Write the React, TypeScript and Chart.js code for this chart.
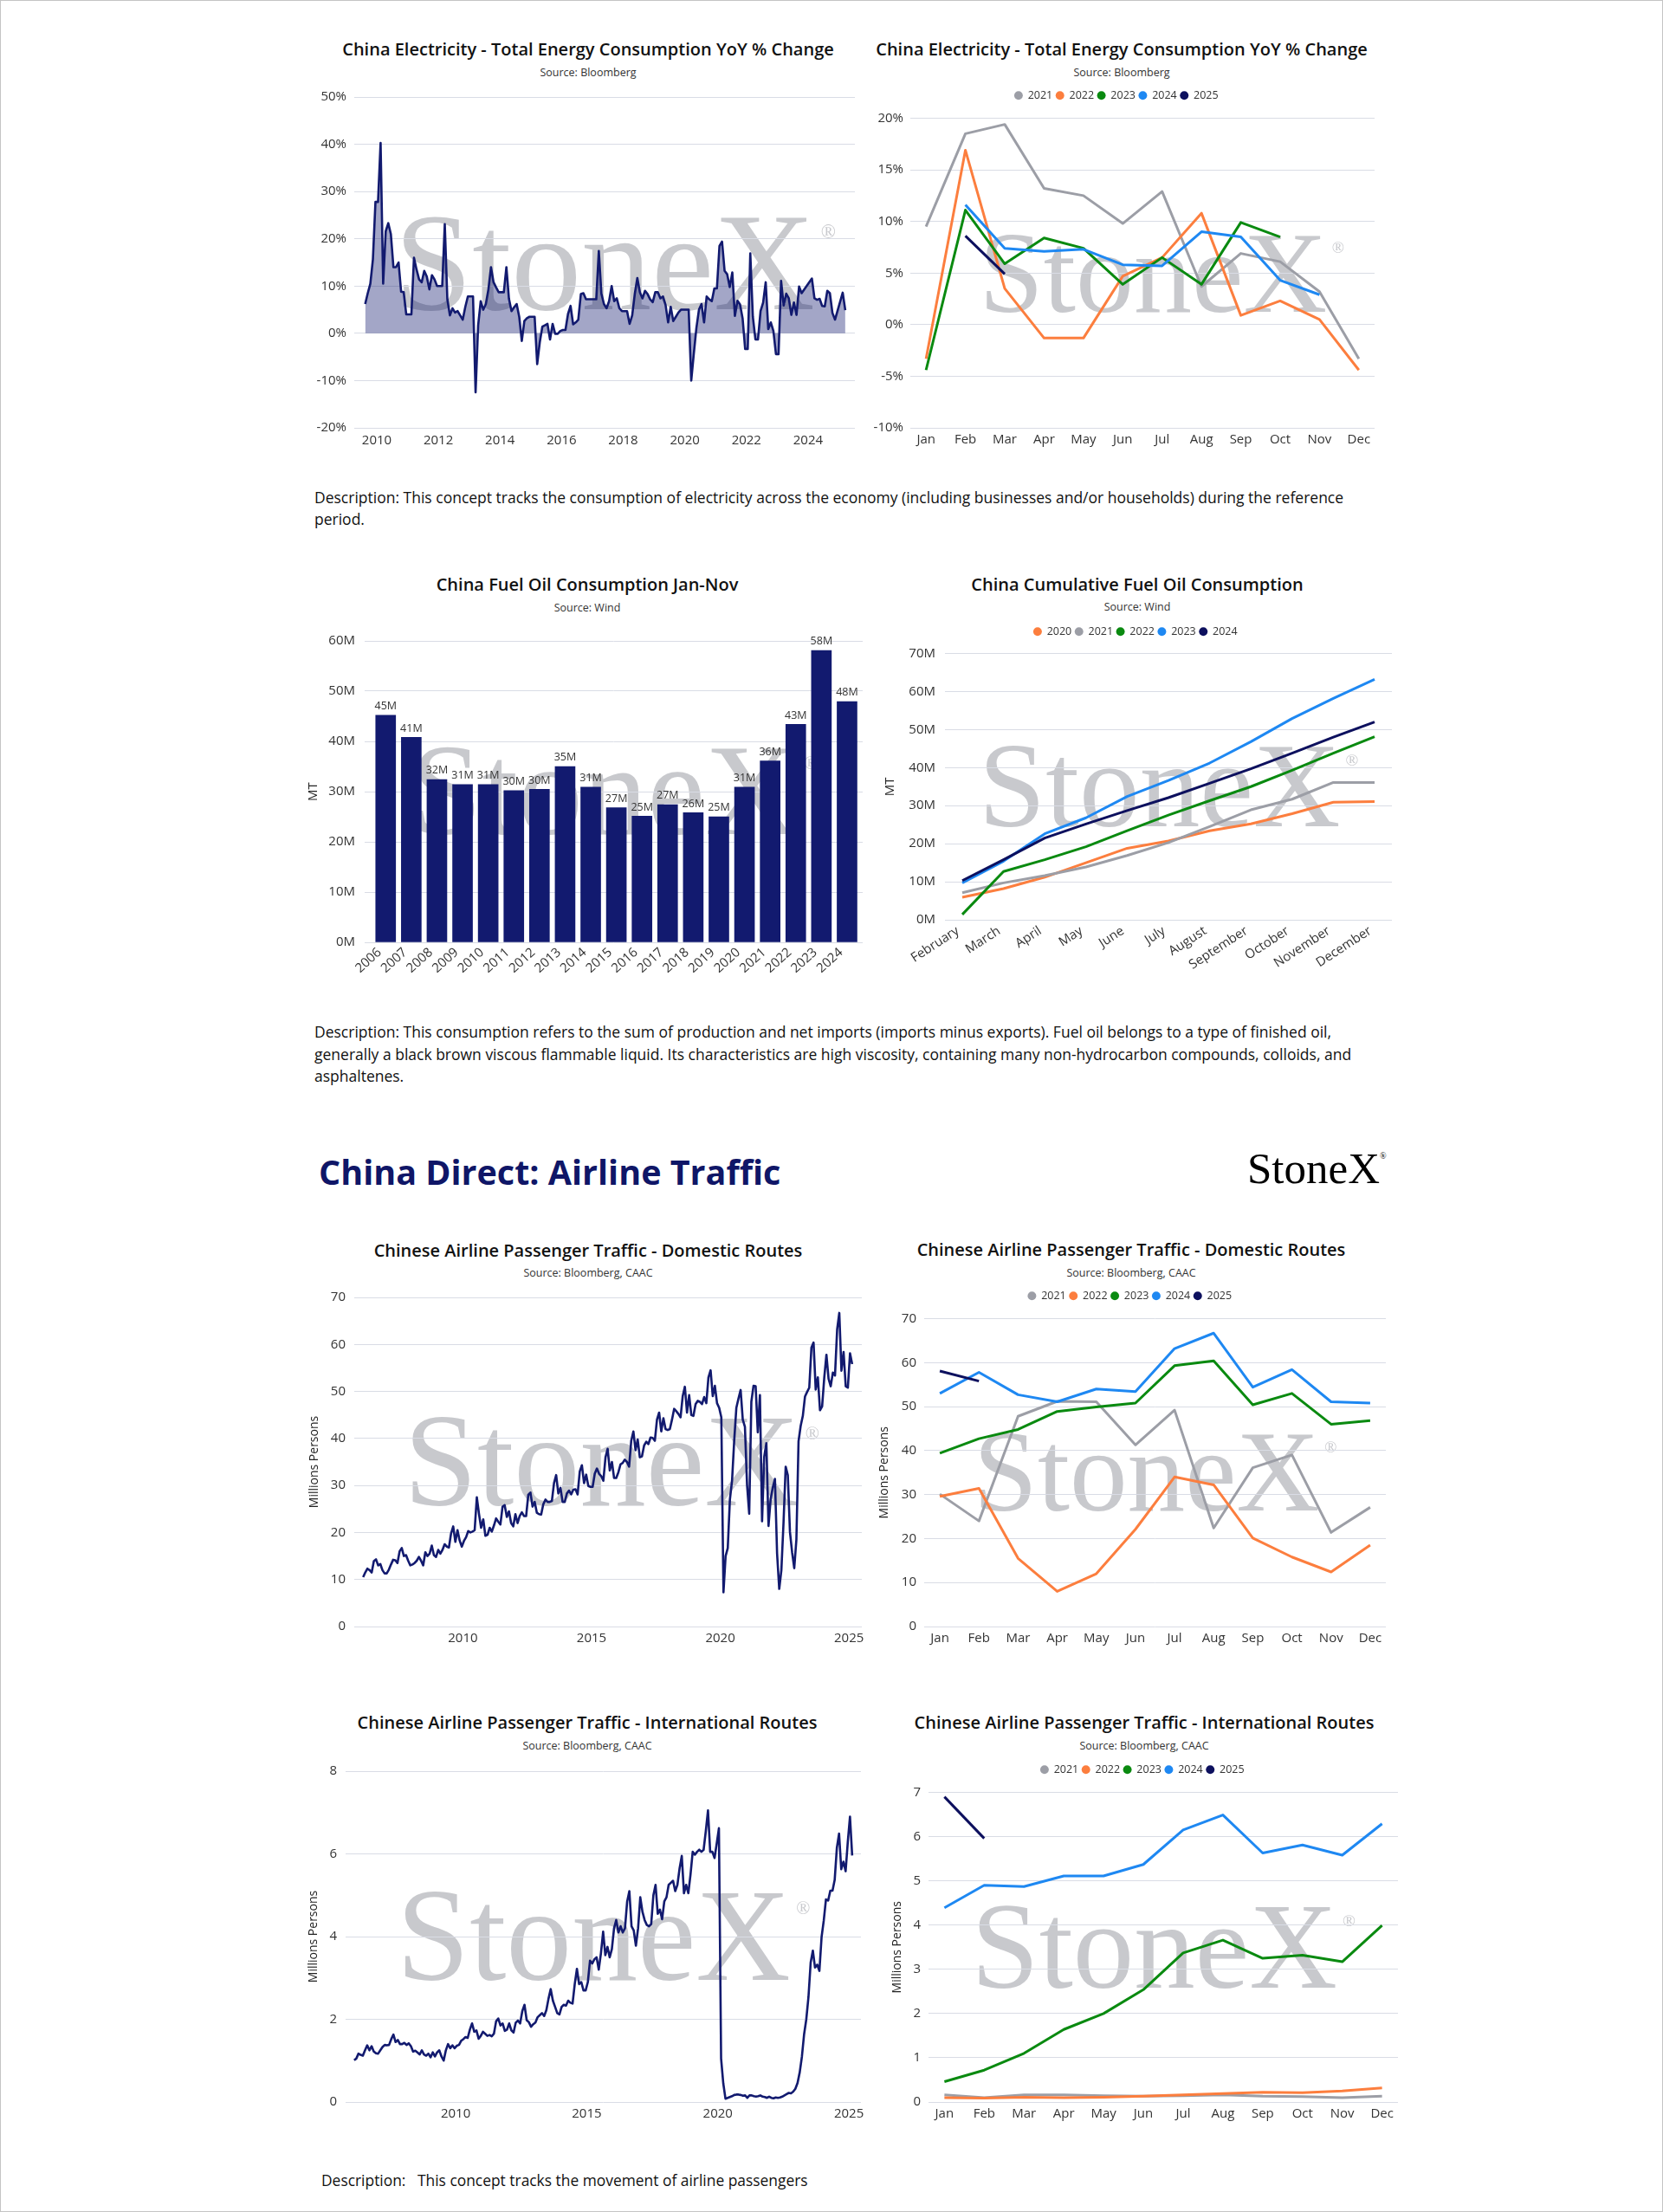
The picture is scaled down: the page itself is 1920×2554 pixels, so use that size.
import React, { useEffect, useRef } from 'react';
import { Chart, registerables } from 'chart.js';

Chart.register(...registerables);

const SANS = "'Open Sans', 'Noto Sans', 'DejaVu Sans', sans-serif";
const SERIF = "'Liberation Serif', 'DejaVu Serif', serif";
Chart.defaults.font.family = SANS;
Chart.defaults.color = '#333';

// ---------- colours ----------
const NAVY = '#121a6f';
const NAVY_FILL = 'rgba(18, 26, 111, 0.39)';
const GREY = '#9c9ea6';
const ORANGE = '#fc7e3e';
const GREEN = '#0a8a10';
const BLUE = '#1e88f2';
const DARK_NAVY = '#0d105e';
const GRID = '#d9dce5';
const WATERMARK = '#c8c9cd';

// ---------- categories / ticks ----------
const MONTHS = ['Jan', 'Feb', 'Mar', 'Apr', 'May', 'Jun', 'Jul', 'Aug', 'Sep', 'Oct', 'Nov', 'Dec'];
const FUEL_MONTHS = ['February', 'March', 'April', 'May', 'June', 'July', 'August', 'September', 'October', 'November', 'December'];
const ELEC_YEAR_TICKS = [2010, 2012, 2014, 2016, 2018, 2020, 2022, 2024];
const AIR_YEAR_TICKS = [2010, 2015, 2020, 2025];
const SEASONAL_YEARS = ['2021', '2022', '2023', '2024', '2025'];
const SEASONAL_COLORS = [GREY, ORANGE, GREEN, BLUE, DARK_NAVY];
const FUEL_CUM_YEARS = ['2020', '2021', '2022', '2023', '2024'];
const FUEL_CUM_COLORS = [ORANGE, GREY, GREEN, BLUE, DARK_NAVY];
const FUEL_BAR_YEARS = [2006, 2007, 2008, 2009, 2010, 2011, 2012, 2013, 2014, 2015, 2016, 2017, 2018, 2019, 2020, 2021, 2022, 2023, 2024];

// ---------- China electricity consumption YoY % (monthly) ----------
// Aug 2009 – Dec 2020
const elecYoY2009to2020 = [
  6.2, 8.5, 10.5, 15.6, 27.8,
  27.8, 40.3, 10.5, 21.6, 23.3, 21.0, 14.0, 14.0, 15.0, 8.8, 8.7, 4.0,
  4.0, 4.0, 16.0, 13.5, 11.4, 10.8, 13.2, 12.0, 9.3, 12.3, 11.4, 10.0,
  10.0, 10.0, 23.1, 7.2, 3.8, 5.3, 4.4, 4.7, 3.8, 2.9, 5.6, 7.8,
  7.8, 7.8, -12.5, 1.7, 6.8, 5.0, 6.2, 9.3, 14.0, 10.8, 9.7, 8.7,
  8.7, 8.7, 14.0, 7.3, 4.7, 5.5, 6.2, 3.5, -1.6, 2.6, 3.2, 3.5,
  3.5, 3.5, -6.5, -1.9, 1.4, 1.7, 2.0, -1.3, 2.0, -0.1, -0.1, 0.5,
  0.7, 0.7, 4.1, 5.8, 1.9, 2.3, 2.9, 8.3, 8.5, 7.2, 7.2, 7.2,
  7.2, 7.2, 17.4, 8.4, 6.2, 5.3, 6.8, 10.0, 6.8, 7.4, 5.3, 4.7,
  4.7, 4.7, 2.0, 3.8, 8.3, 11.7, 8.7, 7.4, 9.0, 8.3, 7.2, 6.6,
  8.7, 8.7, 7.4, 7.8, 6.0, 2.3, 5.6, 2.6, 3.5, 4.4, 5.0, 5.0,
  5.0, 5.0, -10.0, -4.3, 1.1, 5.0, 6.2, 2.3, 7.8, 7.2, 6.8, 9.5,
];
const elecYoY2021 = [9.5, 18.5, 19.4, 13.2, 12.5, 9.8, 12.9, 3.7, 6.9, 6.1, 3.2, -3.3];
const elecYoY2022 = [-3.3, 16.9, 3.5, -1.3, -1.3, 4.7, 6.5, 10.8, 0.9, 2.3, 0.5, -4.4];
const elecYoY2023 = [-4.4, 11.1, 5.9, 8.4, 7.4, 3.9, 6.5, 3.9, 9.9, 8.5, null, null];
const elecYoY2024 = [null, 11.6, 7.4, 7.1, 7.3, 5.8, 5.7, 9.0, 8.5, 4.3, 2.9, null];
const elecYoY2025 = [null, 8.6, 4.9];

// ---------- China fuel oil ----------
const fuelOilJanNov = [45.2, 40.8, 32.4, 31.4, 31.4, 30.2, 30.45, 35.0, 30.9, 26.8, 25.1, 27.4, 25.8, 25.0, 30.9, 36.1, 43.4, 58.1, 47.9];
const fuelCum2020 = [5.9, 8.2, 11.2, 15.0, 18.8, 20.7, 23.4, 25.2, 27.9, 30.9, 31.1];
const fuelCum2021 = [7.1, 9.7, 11.6, 13.9, 16.9, 20.3, 24.5, 28.9, 31.7, 36.1, 36.1];
const fuelCum2022 = [1.4, 12.7, 15.8, 19.2, 23.4, 27.5, 31.3, 35.0, 39.3, 43.8, 48.1];
const fuelCum2023 = [9.7, 15.4, 22.6, 26.8, 32.4, 36.6, 41.2, 46.8, 52.9, 58.2, 63.2];
const fuelCum2024 = [10.3, 15.8, 21.5, 25.2, 28.7, 32.1, 35.9, 39.7, 43.8, 48.0, 52.0];

// ---------- Airline passengers, domestic (millions), Feb 2006 – Dec 2020 ----------
const domestic2006to2020 = [
  10.5, 11.5, 12.3, 12.0, 11.5, 13.9, 14.3, 13.0, 13.3, 12.0, 11.3,
  11.3, 12.1, 13.2, 14.2, 14.1, 13.5, 16.0, 16.7, 15.0, 15.2, 14.0, 13.0,
  13.2, 13.5, 14.0, 14.8, 14.0, 13.0, 15.8, 15.0, 15.5, 17.2, 15.2, 14.8,
  16.3, 15.5, 16.3, 17.5, 17.0, 16.8, 19.8, 21.3, 18.0, 20.5, 18.3, 17.0,
  18.2, 19.0, 20.3, 20.0, 20.2, 20.5, 27.5, 24.0, 21.0, 22.8, 19.3, 19.5,
  21.0, 20.2, 21.5, 23.0, 22.3, 21.7, 25.5, 25.8, 23.3, 24.5, 22.0, 21.3,
  23.9, 22.0, 23.5, 24.3, 23.5, 23.5, 28.0, 28.5, 25.5, 26.5, 24.2, 23.9,
  23.8, 26.0, 27.0, 26.5, 26.5, 26.7, 30.5, 32.2, 28.3, 29.5, 26.5, 26.5,
  28.3, 28.9, 28.1, 29.1, 29.2, 28.1, 33.0, 34.3, 30.5, 32.3, 29.9, 29.7,
  29.7, 32.5, 33.6, 32.5, 32.0, 31.0, 36.0, 37.8, 33.2, 35.0, 31.6, 31.6,
  32.8, 34.5, 34.8, 35.5, 35.0, 34.0, 39.5, 41.5, 37.5, 39.8, 36.0, 36.2,
  38.5, 39.3, 38.8, 40.2, 40.1, 39.5, 44.0, 45.5, 41.5, 44.3, 42.0, 41.8,
  42.0, 44.0, 46.3, 45.8, 45.2, 44.5, 49.0, 51.0, 45.5, 49.2, 45.0, 44.8,
  47.3, 48.0, 47.8, 47.3, 48.8, 47.5, 53.0, 54.5, 49.0, 51.2, 47.5, 46.5,
  44.5, 7.3, 15.0, 16.7, 27.0, 31.0, 39.5, 46.5, 48.5, 50.3, 44.0, 42.5,
];
const domestic2021 = [30.1, 24.0, 47.8, 51.2, 51.1, 41.3, 49.2, 22.4, 36.1, 39.0, 21.4, 27.1];
const domestic2022 = [29.6, 31.4, 15.5, 8.0, 12.0, 22.1, 34.0, 32.2, 20.1, 15.8, 12.4, 18.5];
const domestic2023 = [39.4, 42.7, 44.8, 48.9, 49.9, 50.8, 59.3, 60.4, 50.4, 53.0, 46.0, 46.8];
const domestic2024 = [53.0, 57.8, 52.7, 51.1, 54.0, 53.4, 63.2, 66.7, 54.4, 58.4, 51.1, 50.8];
const domestic2025 = [58.1, 55.8];

// ---------- Airline passengers, international (millions), Feb 2006 – Dec 2020 ----------
const intl2006to2020 = [
  1.01, 1.05, 1.17, 1.14, 1.12, 1.25, 1.37, 1.25, 1.35, 1.22, 1.18,
  1.17, 1.25, 1.33, 1.38, 1.37, 1.38, 1.52, 1.63, 1.45, 1.50, 1.40, 1.40,
  1.43, 1.38, 1.42, 1.35, 1.22, 1.24, 1.20, 1.15, 1.25, 1.15, 1.12, 1.17,
  1.08, 1.20, 1.10, 1.20, 1.25, 1.10, 1.00, 1.25, 1.40, 1.30, 1.37, 1.30,
  1.36, 1.38, 1.48, 1.52, 1.57, 1.55, 1.75, 1.90, 1.70, 1.73, 1.53, 1.60,
  1.70, 1.65, 1.60, 1.62, 1.59, 1.65, 1.95, 2.02, 1.85, 1.90, 1.72, 1.75,
  1.90, 1.73, 1.68, 1.92, 1.97, 1.90, 2.20, 2.35, 1.98, 1.93, 1.82, 1.88,
  1.92, 2.05, 2.10, 2.15, 2.08, 2.22, 2.50, 2.73, 2.45, 2.30, 2.15, 2.12,
  2.30, 2.35, 2.33, 2.45, 2.40, 2.38, 2.85, 3.22, 2.85, 2.90, 2.70, 2.70,
  2.90, 3.42, 3.35, 3.45, 3.50, 3.20, 3.60, 4.12, 3.55, 3.75, 3.50, 3.70,
  4.20, 4.40, 4.10, 4.25, 4.10, 4.20, 4.85, 5.10, 4.25, 4.15, 3.78, 4.20,
  4.95, 4.60, 4.40, 4.28, 4.25, 4.30, 5.00, 5.25, 4.55, 4.65, 4.42, 4.85,
  4.95, 5.25, 5.30, 5.35, 5.10, 5.25, 5.65, 5.95, 5.05, 5.25, 5.05, 5.50,
  6.05, 5.98, 6.05, 6.10, 6.05, 6.10, 6.55, 7.05, 6.05, 6.05, 5.90, 6.25,
  6.62, 1.05, 0.45, 0.08, 0.10, 0.12, 0.14, 0.17, 0.18, 0.18, 0.17, 0.15,
];
const intl2021 = [0.16, 0.10, 0.16, 0.16, 0.14, 0.13, 0.14, 0.16, 0.13, 0.12, 0.10, 0.13];
const intl2022 = [0.10, 0.09, 0.11, 0.10, 0.11, 0.13, 0.16, 0.19, 0.22, 0.21, 0.25, 0.32];
const intl2023 = [0.46, 0.72, 1.10, 1.64, 2.00, 2.54, 3.37, 3.66, 3.25, 3.32, 3.17, 3.99];
const intl2024 = [4.39, 4.90, 4.87, 5.11, 5.11, 5.37, 6.15, 6.49, 5.63, 5.81, 5.58, 6.29];
const intl2025 = [6.90, 5.96];

// ---------- helpers ----------
function monthly(startYear: number, startMonth: number, values: (number | null)[]) {
  return values.map((v, i) => {
    const k = startMonth - 1 + i;
    return { x: startYear + Math.floor(k / 12) + ((k % 12) + 0.5) / 12, y: v };
  });
}
function byIndex(values: (number | null)[]) {
  return values.map((v, i) => ({ x: i, y: v }));
}
const range = (n: number) => Array.from({ length: n }, (_, i) => i);

interface Frame { plotL: number; plotT: number; plotR: number; plotB: number; canvasL: number; canvasR: number; legendY?: number; xAxisH?: number; wm?: number; wmDx?: number; }

function computeLayout(f: Frame) {
  const padBottom = 4;
  const xH = f.xAxisH ?? 30;
  let top: number; let padTop: number; let gap = 0;
  if (f.legendY !== undefined) {
    top = f.legendY - 10;
    padTop = 0;
    gap = f.plotT - top - 26;
  } else {
    padTop = 14;
    top = f.plotT - padTop;
  }
  const bottom = f.plotB + xH + padBottom;
  return {
    left: f.canvasL, top, width: f.canvasR - f.canvasL, height: bottom - top,
    padding: { left: 0, top: padTop, right: f.canvasR - f.plotR, bottom: padBottom },
    yW: f.plotL - f.canvasL, xH, gap, wm: f.wm ?? 0.25, wmDx: f.wmDx ?? 0,
  };
}
type Lay = ReturnType<typeof computeLayout>;

const watermarkPlugin = (scale: number, dx: number) => ({
  id: 'stonexWatermark',
  beforeDraw(chart: any) {
    const a = chart.chartArea;
    if (!a) return;
    const ctx = chart.ctx;
    const size = (a.right - a.left) * scale;
    const rs = size * 0.14;
    ctx.save();
    ctx.font = `${size}px ${SERIF}`;
    const w = ctx.measureText('StoneX').width;
    const total = w + rs * 1.05;
    const x0 = (a.left + a.right) / 2 - total / 2 + dx;
    const cap = size * 0.662;
    const base = (a.top + a.bottom) / 2 + cap / 2;
    ctx.fillStyle = WATERMARK;
    ctx.textAlign = 'left';
    ctx.textBaseline = 'alphabetic';
    ctx.fillText('StoneX', x0, base);
    ctx.font = `${rs}px ${SERIF}`;
    ctx.fillText('\u00AE', x0 + w + rs * 0.3, base - cap + rs * 1.13);
    ctx.restore();
  },
});

const legendGap = (gap: number) => ({
  id: 'legendGap',
  afterInit(chart: any) {
    const lg = chart.legend;
    if (!lg) return;
    const fit = lg.fit.bind(lg);
    lg.fit = () => { fit(); lg.height += gap; };
  },
});

const barLabelPlugin = {
  id: 'barLabels',
  afterDatasetsDraw(chart: any) {
    const ctx = chart.ctx;
    const meta = chart.getDatasetMeta(0);
    const ds = chart.data.datasets[0].data;
    ctx.save();
    ctx.font = `12.5px ${SANS}`;
    ctx.fillStyle = '#333';
    ctx.textAlign = 'center';
    ctx.textBaseline = 'bottom';
    meta.data.forEach((el: any, i: number) => {
      ctx.fillText(`${Math.round(ds[i].y)}M`, el.x, el.y - 4);
    });
    ctx.restore();
  },
};

const LEGEND = {
  display: true,
  position: 'top',
  align: 'center',
  labels: {
    usePointStyle: true,
    pointStyle: 'circle',
    boxWidth: 9,
    boxHeight: 7,
    padding: 4,
    color: '#333',
    font: { size: 12.5 },
    sort: (a: any, b: any) => a.datasetIndex - b.datasetIndex,
    generateLabels: (chart: any) =>
      (Chart.defaults.plugins.legend.labels as any).generateLabels(chart).map((l: any) => ({ ...l, lineWidth: 0, fillStyle: l.strokeStyle })),
  },
};

function yAxis(lay: Lay, min: number, max: number, step: number, fmt: (v: number) => string, pad: number, title?: string, titleSize = 15) {
  return {
    min, max,
    ticks: { stepSize: step, padding: pad, color: '#333', font: { size: 15 }, callback: (v: any) => fmt(v) },
    grid: { color: GRID, lineWidth: 1, drawTicks: false },
    border: { display: false },
    title: title
      ? { display: true, text: title, color: '#222', font: { size: titleSize }, padding: { top: 4, bottom: 0 } }
      : { display: false },
    afterFit: (s: any) => { s.width = lay.yW; },
  };
}

function xLinear(lay: Lay, min: number, max: number, tickValues: number[], label: (v: number) => string, pad: number, rotation = 0, fontSize = 15, labelOffset = 0) {
  return {
    type: 'linear', min, max, offset: false,
    grid: { display: false, drawTicks: false, offset: false },
    border: { display: false },
    afterBuildTicks: (s: any) => { s.ticks = tickValues.map((v) => ({ value: v })); },
    ticks: { padding: pad, color: '#333', font: { size: fontSize }, autoSkip: false, minRotation: rotation, maxRotation: rotation, labelOffset, callback: (v: any) => label(v) },
    afterFit: (s: any) => { s.height = lay.xH; },
  };
}

function common(lay: Lay, x: any, y: any, legend: boolean) {
  return {
    animation: false,
    responsive: false,
    devicePixelRatio: 1,
    events: [],
    layout: { padding: lay.padding },
    plugins: {
      legend: legend ? LEGEND : { display: false },
      title: { display: false },
      tooltip: { enabled: false },
    },
    scales: { x, y },
  };
}

function seasonalDatasets(years: string[], series: (number | null)[][], colors: string[]) {
  return years.map((yr, i) => ({
    label: yr,
    data: byIndex(series[i]),
    borderColor: colors[i],
    backgroundColor: colors[i],
    borderWidth: 3,
    pointRadius: 0,
    pointHoverRadius: 0,
    tension: 0,
    fill: false,
    borderJoinStyle: 'round',
    order: -i,
  }));
}

function historyDataset(points: any[], fill: boolean) {
  return {
    label: 'history',
    data: points,
    borderColor: NAVY,
    backgroundColor: fill ? NAVY_FILL : NAVY,
    fill: fill ? 'origin' : false,
    borderWidth: 2.6,
    pointRadius: 0,
    pointHoverRadius: 0,
    tension: 0,
    spanGaps: true,
    borderJoinStyle: 'round',
  };
}

// ---------- chart frames (page pixel positions) ----------
const F1: Frame = { plotL: 408, plotT: 107, plotR: 986, plotB: 493, canvasL: 340, canvasR: 1000, wm: 0.28, wmDx: 12 };
const F2: Frame = { plotL: 1050, plotT: 135, plotR: 1586, plotB: 493, canvasL: 990, canvasR: 1598, legendY: 109, wmDx: 22 };
const F3: Frame = { plotL: 420, plotT: 733, plotR: 995, plotB: 1087, canvasL: 348, canvasR: 1005, xAxisH: 50, wm: 0.26 };
const F4: Frame = { plotL: 1090, plotT: 753, plotR: 1606, plotB: 1061, canvasL: 1014, canvasR: 1614, legendY: 728, xAxisH: 70, wm: 0.27 };
const F5: Frame = { plotL: 408, plotT: 1492, plotR: 994, plotB: 1877, canvasL: 350, canvasR: 1005, wm: 0.26, wmDx: 4 };
const F6: Frame = { plotL: 1066, plotT: 1521, plotR: 1599, plotB: 1877, canvasL: 1008, canvasR: 1610, legendY: 1495 };
const F7: Frame = { plotL: 398, plotT: 2039, plotR: 993, plotB: 2426, canvasL: 349, canvasR: 1004, wm: 0.255 };
const F8: Frame = { plotL: 1071, plotT: 2068, plotR: 1613, plotB: 2426, canvasL: 1023, canvasR: 1624, legendY: 2042, wm: 0.26 };

const pct = (v: number) => `${v}%`;
const mt = (v: number) => `${v}M`;
const plain = (v: number) => `${v}`;

const chart1 = (lay: Lay) => ({
  type: 'line',
  data: {
    datasets: [historyDataset(monthly(2009, 8, [...elecYoY2009to2020, ...elecYoY2021, ...elecYoY2022, ...elecYoY2023, ...elecYoY2024, ...elecYoY2025]), true)],
  },
  options: common(lay, xLinear(lay, 2009.27, 2025.52, ELEC_YEAR_TICKS, plain, 6), yAxis(lay, -20, 50, 10, pct, 9), false),
  plugins: [watermarkPlugin(lay.wm, lay.wmDx)],
});

const chart2 = (lay: Lay) => ({
  type: 'line',
  data: { datasets: seasonalDatasets(SEASONAL_YEARS, [elecYoY2021, elecYoY2022, elecYoY2023, elecYoY2024, elecYoY2025], SEASONAL_COLORS) },
  options: common(lay, xLinear(lay, -0.4, 11.4, range(12), (v) => MONTHS[Math.round(v)], 5), yAxis(lay, -10, 20, 5, pct, 8), true),
  plugins: [watermarkPlugin(lay.wm, lay.wmDx), legendGap(lay.gap)],
});

const chart3 = (lay: Lay) => ({
  type: 'bar',
  data: {
    datasets: [{
      label: 'Fuel oil consumption',
      data: FUEL_BAR_YEARS.map((yr, i) => ({ x: yr, y: fuelOilJanNov[i] })),
      backgroundColor: NAVY,
      borderWidth: 0,
      barThickness: 23,
    }],
  },
  options: common(lay, xLinear(lay, 2005.18, 2024.61, FUEL_BAR_YEARS, plain, 3, 42, 15, -7), yAxis(lay, 0, 60, 10, mt, 11, 'MT'), false),
  plugins: [watermarkPlugin(lay.wm, lay.wmDx), barLabelPlugin],
});

const chart4 = (lay: Lay) => ({
  type: 'line',
  data: { datasets: seasonalDatasets(FUEL_CUM_YEARS, [fuelCum2020, fuelCum2021, fuelCum2022, fuelCum2023, fuelCum2024], FUEL_CUM_COLORS) },
  options: common(lay, xLinear(lay, -0.42, 10.42, range(11), (v) => FUEL_MONTHS[Math.round(v)], 4, 33, 15, -5), yAxis(lay, 0, 70, 10, mt, 11, 'MT'), true),
  plugins: [watermarkPlugin(lay.wm, lay.wmDx), legendGap(lay.gap)],
});

const chart5 = (lay: Lay) => ({
  type: 'line',
  data: { datasets: [historyDataset(monthly(2006, 2, [...domestic2006to2020, ...domestic2021, ...domestic2022, ...domestic2023, ...domestic2024, ...domestic2025]), false)] },
  options: common(lay, xLinear(lay, 2005.78, 2025.5, AIR_YEAR_TICKS, plain, 5), yAxis(lay, 0, 70, 10, plain, 10, 'Millions Persons', 14), false),
  plugins: [watermarkPlugin(lay.wm, lay.wmDx)],
});

const chart6 = (lay: Lay) => ({
  type: 'line',
  data: { datasets: seasonalDatasets(SEASONAL_YEARS, [domestic2021, domestic2022, domestic2023, domestic2024, domestic2025], SEASONAL_COLORS) },
  options: common(lay, xLinear(lay, -0.4, 11.4, range(12), (v) => MONTHS[Math.round(v)], 5), yAxis(lay, 0, 70, 10, plain, 9, 'Millions Persons', 14), true),
  plugins: [watermarkPlugin(lay.wm, lay.wmDx), legendGap(lay.gap)],
});

const chart7 = (lay: Lay) => ({
  type: 'line',
  data: { datasets: [historyDataset(monthly(2006, 2, [...intl2006to2020, ...intl2021, ...intl2022, ...intl2023, ...intl2024, ...intl2025]), false)] },
  options: common(lay, xLinear(lay, 2005.8, 2025.46, AIR_YEAR_TICKS, plain, 5), yAxis(lay, 0, 8, 2, plain, 10, 'Millions Persons', 14), false),
  plugins: [watermarkPlugin(lay.wm, lay.wmDx)],
});

const chart8 = (lay: Lay) => ({
  type: 'line',
  data: { datasets: seasonalDatasets(SEASONAL_YEARS, [intl2021, intl2022, intl2023, intl2024, intl2025], SEASONAL_COLORS) },
  options: common(lay, xLinear(lay, -0.4, 11.4, range(12), (v) => MONTHS[Math.round(v)], 5), yAxis(lay, 0, 7, 1, plain, 9, 'Millions Persons', 14), true),
  plugins: [watermarkPlugin(lay.wm, lay.wmDx), legendGap(lay.gap)],
});

function ChartCanvas({ frame, build }: { frame: Frame; build: (lay: Lay) => any }) {
  const ref = useRef<HTMLCanvasElement | null>(null);
  const lay = computeLayout(frame);
  useEffect(() => {
    if (!ref.current) return;
    const c = new Chart(ref.current, build(lay));
    return () => c.destroy();
  }, []);
  return (
    <canvas
      ref={ref}
      width={lay.width}
      height={lay.height}
      style={{ position: 'absolute', left: lay.left, top: lay.top, width: lay.width, height: lay.height }}
    />
  );
}

function Title({ cx, cy, text, sub, subY }: { cx: number; cy: number; text: string; sub: string; subY: number }) {
  return (
    <>
      <div style={{ position: 'absolute', left: cx, top: cy, transform: 'translate(-50%, -50%)', whiteSpace: 'nowrap', font: `600 20px ${SANS}`, color: '#111' }}>{text}</div>
      <div style={{ position: 'absolute', left: cx, top: subY, transform: 'translate(-50%, -50%)', whiteSpace: 'nowrap', font: `400 12.5px ${SANS}`, color: '#333' }}>{sub}</div>
    </>
  );
}

function TextLine({ x, cy, text, size = 17.5 }: { x: number; cy: number; text: string; size?: number }) {
  return (
    <div style={{ position: 'absolute', left: x, top: cy, transform: 'translateY(-50%)', whiteSpace: 'pre', font: `400 ${size}px ${SANS}`, color: '#111' }}>{text}</div>
  );
}

export default function App() {
  return (
    <div style={{ position: 'absolute', left: 0, top: 0, width: 1920, height: 2554, background: '#fff', border: '1px solid #c4c4c4', boxSizing: 'border-box', overflow: 'hidden', fontFamily: SANS }}>
      <Title cx={678} cy={55} text="China Electricity - Total Energy Consumption YoY % Change" sub="Source: Bloomberg" subY={82} />
      <Title cx={1294} cy={55} text="China Electricity - Total Energy Consumption YoY % Change" sub="Source: Bloomberg" subY={82} />
      <ChartCanvas frame={F1} build={chart1} />
      <ChartCanvas frame={F2} build={chart2} />

      <TextLine x={362} cy={573} text="Description: This concept tracks the consumption of electricity across the economy (including businesses and/or households) during the reference" />
      <TextLine x={362} cy={598} text="period." />

      <Title cx={677} cy={673} text="China Fuel Oil Consumption Jan-Nov" sub="Source: Wind" subY={700} />
      <Title cx={1312} cy={673} text="China Cumulative Fuel Oil Consumption" sub="Source: Wind" subY={699} />
      <ChartCanvas frame={F3} build={chart3} />
      <ChartCanvas frame={F4} build={chart4} />

      <TextLine x={362} cy={1190} text="Description: This consumption refers to the sum of production and net imports (imports minus exports). Fuel oil belongs to a type of finished oil," />
      <TextLine x={362} cy={1216} text="generally a black brown viscous flammable liquid. Its characteristics are high viscosity, containing many non-hydrocarbon compounds, colloids, and" />
      <TextLine x={362} cy={1241} text="asphaltenes." />

      <div style={{ position: 'absolute', left: 367, top: 1352, transform: 'translateY(-50%)', whiteSpace: 'nowrap', font: `700 39.5px ${SANS}`, color: '#0f1667' }}>China Direct: Airline Traffic</div>
      <div style={{ position: 'absolute', left: 1439, top: 1348, transform: 'translateY(-50%)', whiteSpace: 'nowrap', font: `400 51px ${SERIF}`, color: '#000', lineHeight: 1 }}>
        StoneX<span style={{ fontSize: 10, verticalAlign: 'top', position: 'relative', top: 6 }}>®</span>
      </div>

      <Title cx={678} cy={1442} text="Chinese Airline Passenger Traffic - Domestic Routes" sub="Source: Bloomberg, CAAC" subY={1468} />
      <Title cx={1305} cy={1441} text="Chinese Airline Passenger Traffic - Domestic Routes" sub="Source: Bloomberg, CAAC" subY={1468} />
      <ChartCanvas frame={F5} build={chart5} />
      <ChartCanvas frame={F6} build={chart6} />

      <Title cx={677} cy={1987} text="Chinese Airline Passenger Traffic - International Routes" sub="Source: Bloomberg, CAAC" subY={2014} />
      <Title cx={1320} cy={1987} text="Chinese Airline Passenger Traffic - International Routes" sub="Source: Bloomberg, CAAC" subY={2014} />
      <ChartCanvas frame={F7} build={chart7} />
      <ChartCanvas frame={F8} build={chart8} />

      <TextLine x={370} cy={2516} text="Description:   This concept tracks the movement of airline passengers" size={17.4} />
    </div>
  );
}
